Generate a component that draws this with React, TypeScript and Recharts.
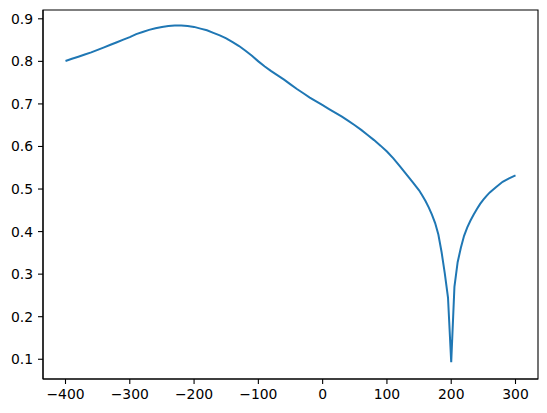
import { LineChart, Line, XAxis, YAxis, ReferenceArea } from "recharts";

// sample positions along the x axis
const xValues = [
  -400, -390, -380, -370, -360, -350, -340, -330, -320, -310,
  -300, -290, -280, -270, -260, -250, -240, -230, -220, -210,
  -200, -190, -180, -170, -160, -150, -140, -130, -120, -110,
  -100, -90, -80, -70, -60, -50, -40, -30, -20, -10,
  0, 10, 20, 30, 40, 50, 60, 70, 80, 90,
  100, 110, 120, 130, 140, 150, 155, 160, 165, 170,
  175, 180, 185, 190, 195, 200, 205, 210, 215, 220,
  225, 230, 235, 240, 245, 250, 255, 260, 270, 280,
  290, 300,
];

// curve values
const yValues = [
  0.801, 0.806, 0.811, 0.816, 0.821, 0.827, 0.833, 0.839, 0.845, 0.851,
  0.857, 0.864, 0.869, 0.874, 0.878, 0.881, 0.883, 0.884, 0.884, 0.883,
  0.881, 0.877, 0.873, 0.867, 0.861, 0.854, 0.845, 0.836, 0.825, 0.813,
  0.8, 0.788, 0.777, 0.767, 0.757, 0.746, 0.735, 0.725, 0.715, 0.706,
  0.697, 0.688, 0.679, 0.67, 0.66, 0.65, 0.639, 0.627, 0.615, 0.602,
  0.588, 0.572, 0.554, 0.535, 0.516, 0.497, 0.485, 0.472, 0.457, 0.44,
  0.42, 0.393, 0.352, 0.302, 0.245, 0.093, 0.27, 0.328, 0.362, 0.39,
  0.41, 0.426, 0.44, 0.453, 0.465, 0.475, 0.484, 0.492, 0.505, 0.517,
  0.525, 0.532,
];

const xTicks = [-400, -300, -200, -100, 0, 100, 200, 300];
const yTicks = [0.1, 0.2, 0.3, 0.4, 0.5, 0.6, 0.7, 0.8, 0.9];

const xDomain = [-435, 335];
const yDomain = [0.0536, 0.9207];

const data = xValues.map((x, i) => ({ x, y: yValues[i] }));

const minus = (s: string) => s.replace("-", "\u2212");
const tickStyle = { fill: "#000", fontSize: 13.9, fontFamily: "DejaVu Sans" };
const axisLine = { stroke: "#000", strokeWidth: 1.1 };

const App = () => {
  return (
    <div style={{ position: "absolute", left: 0, top: 0, background: "#fff" }}>
      <LineChart
        width={547}
        height={413}
        data={data}
        margin={{ top: 10, right: 9, bottom: 0, left: 0 }}
      >
        <XAxis
          dataKey="x"
          type="number"
          domain={xDomain}
          ticks={xTicks}
          tickFormatter={(v) => minus(String(v))}
          tick={tickStyle}
          tickSize={5}
          tickMargin={5}
          axisLine={axisLine}
          tickLine={axisLine}
          height={34}
          allowDataOverflow
        />
        <YAxis
          type="number"
          domain={yDomain}
          ticks={yTicks}
          tickFormatter={(v) => v.toFixed(1)}
          tick={tickStyle}
          tickSize={5}
          tickMargin={5}
          axisLine={axisLine}
          tickLine={axisLine}
          width={43}
          allowDataOverflow
        />
        {/* box round the plot, like matplotlib's spines */}
        <ReferenceArea
          x1={xDomain[0]}
          x2={xDomain[1]}
          y1={yDomain[0]}
          y2={yDomain[1]}
          fill="none"
          fillOpacity={0}
          stroke="#000"
          strokeWidth={1.1}
          ifOverflow="visible"
        />
        <Line
          type="linear"
          dataKey="y"
          stroke="#1f77b4"
          strokeWidth={2}
          dot={false}
          isAnimationActive={false}
        />
      </LineChart>
    </div>
  );
};

export default App;
